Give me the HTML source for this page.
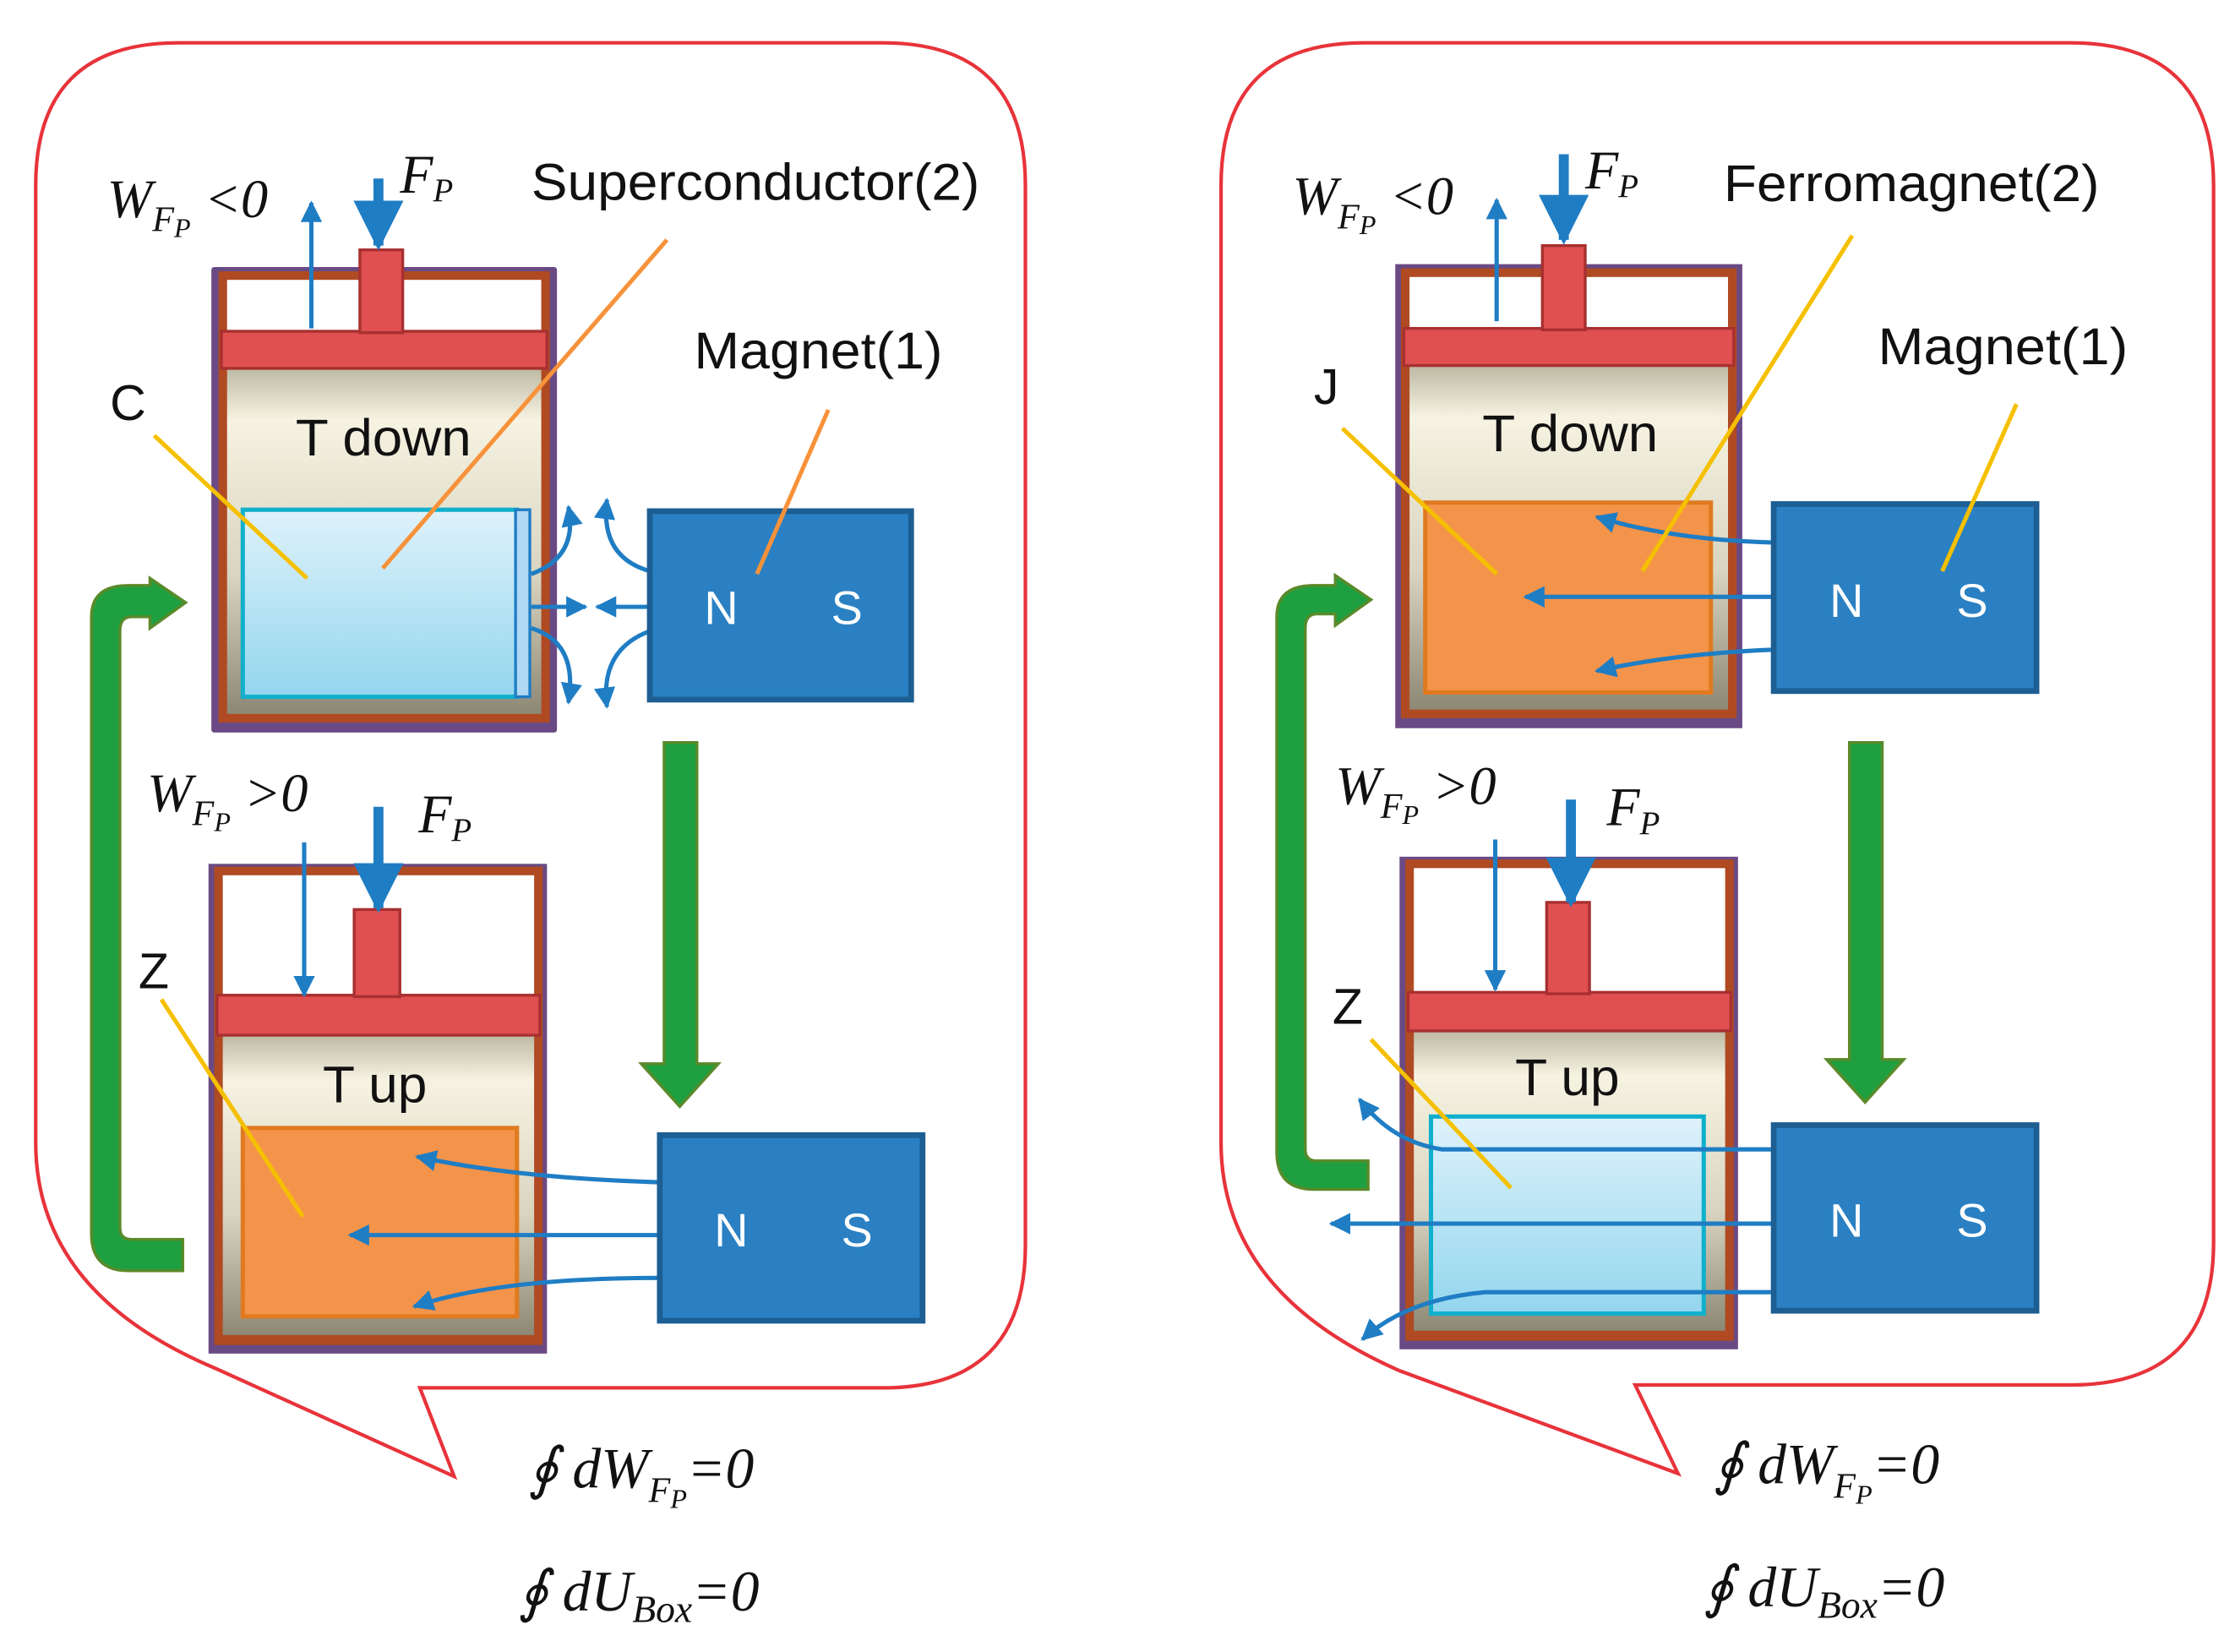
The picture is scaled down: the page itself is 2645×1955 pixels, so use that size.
<!DOCTYPE html>
<html><head><meta charset="utf-8"><style>
html,body{margin:0;padding:0;background:#fff;}
svg{display:block;}
.t{font-family:"Liberation Sans",sans-serif;fill:#111;}
.m{font-family:"Liberation Serif",serif;font-style:italic;fill:#111;}
</style></head><body>
<svg width="2645" height="1955" viewBox="0 0 1565 1157" preserveAspectRatio="none" xmlns="http://www.w3.org/2000/svg">
<defs>
<linearGradient id="gas" x1="0" y1="0" x2="0" y2="1">
<stop offset="0" stop-color="#bdb9a3"/><stop offset="0.15" stop-color="#f6f3e2"/><stop offset="0.6" stop-color="#d8d4c0"/><stop offset="1" stop-color="#8c8874"/></linearGradient>
<linearGradient id="ice" x1="0" y1="0" x2="0" y2="1">
<stop offset="0" stop-color="#dff2fb"/><stop offset="1" stop-color="#93d6ee"/></linearGradient>
<marker id="ah" viewBox="0 0 10 10" refX="9" refY="5" markerWidth="5" markerHeight="5" orient="auto"><path d="M0,0 L10,5 L0,10 Z" fill="#1f7dc4"/></marker>
</defs>

<path d="M125,30 H618 Q718,30 718,130 V872 Q718,972 618,972 H294 L318,1034 L150,958 Q25,905 25,800 V130 Q25,30 125,30 Z" fill="none" stroke="#e8333a" stroke-width="2.5"/>
<path d="M955,30 H1450 Q1550,30 1550,130 V870 Q1550,970 1450,970 H1145 L1175,1032 L980,960 Q855,905 855,800 V130 Q855,30 955,30 Z" fill="none" stroke="#e8333a" stroke-width="2.5"/>

<!-- LEFT TOP -->
<rect x="148" y="187" width="242" height="326" fill="#6a4a84" rx="2"/>
<rect x="153" y="190" width="232" height="316" fill="#b04a22"/>
<rect x="159" y="196" width="220" height="36" fill="#fff"/>
<rect x="159" y="258" width="220" height="242" fill="url(#gas)"/>
<rect x="155" y="232" width="228" height="26" fill="#e05050" stroke="#a83030" stroke-width="2"/>
<rect x="252" y="175" width="30" height="58" fill="#e05050" stroke="#a83030" stroke-width="2"/>
<rect x="170" y="357" width="192" height="131" fill="url(#ice)" stroke="#10b0cc" stroke-width="3"/>
<rect x="361" y="357" width="10" height="131" fill="#b0d8f4" stroke="#1f7dc4" stroke-width="2"/>
<text class="t" x="207" y="319" font-size="36" textLength="123" lengthAdjust="spacingAndGlyphs">T down</text>
<g stroke="#1f7dc4" stroke-width="3" fill="none">
<path d="M372,402 Q405,390 398,355" marker-end="url(#ah)"/>
<path d="M455,400 Q420,390 425,350" marker-end="url(#ah)"/>
<path d="M372,425 H410" marker-end="url(#ah)"/>
<path d="M455,425 H418" marker-end="url(#ah)"/>
<path d="M372,440 Q405,450 398,492" marker-end="url(#ah)"/>
<path d="M455,442 Q420,455 425,495" marker-end="url(#ah)"/>
</g>
<rect x="455" y="358" width="183" height="132" fill="#2a80c2" stroke="#1d5e93" stroke-width="4"/>
<text x="505" y="437" font-size="33" fill="#fff" font-family="Liberation Sans,sans-serif" text-anchor="middle">N</text>
<text x="593" y="437" font-size="33" fill="#fff" font-family="Liberation Sans,sans-serif" text-anchor="middle">S</text>

<!-- LEFT BOTTOM -->
<rect x="146" y="605" width="237" height="343" fill="#6a4a84"/>
<rect x="150" y="607" width="230" height="335" fill="#b04a22"/>
<rect x="156" y="613" width="218" height="84" fill="#fff"/>
<rect x="156" y="725" width="218" height="210" fill="url(#gas)"/>
<rect x="152" y="697" width="226" height="28" fill="#e05050" stroke="#a83030" stroke-width="2"/>
<rect x="248" y="637" width="32" height="61" fill="#e05050" stroke="#a83030" stroke-width="2"/>
<rect x="170" y="790" width="192" height="132" fill="#f4944a" stroke="#e07a20" stroke-width="3"/>
<text class="t" x="226" y="772" font-size="36" textLength="73" lengthAdjust="spacingAndGlyphs">T up</text>
<g stroke="#1f7dc4" stroke-width="3" fill="none">
<path d="M462,828 Q360,825 292,810" marker-end="url(#ah)"/>
<path d="M462,865 H245" marker-end="url(#ah)"/>
<path d="M462,895 Q350,895 290,915" marker-end="url(#ah)"/>
</g>
<rect x="462" y="795" width="184" height="130" fill="#2a80c2" stroke="#1d5e93" stroke-width="4"/>
<text x="512" y="873" font-size="33" fill="#fff" font-family="Liberation Sans,sans-serif" text-anchor="middle">N</text>
<text x="600" y="873" font-size="33" fill="#fff" font-family="Liberation Sans,sans-serif" text-anchor="middle">S</text>

<path d="M465,520 H488 V745 H503 L476,775 L449,745 H465 Z" fill="#1fa040" stroke="#5a8a2a" stroke-width="2"/>
<path d="M128,890 H90 Q64,890 64,864 V432 Q64,410 90,410 H105 V405 L130,422 L105,440 V432 H92 Q84,432 84,442 V860 Q84,868 92,868 H128 Z" fill="#1fa040" stroke="#5a8a2a" stroke-width="2"/>

<g stroke-width="3">
<line x1="108" y1="305" x2="215" y2="405" stroke="#f5c000"/>
<line x1="467" y1="168" x2="268" y2="398" stroke="#f7923a"/>
<line x1="580" y1="287" x2="530" y2="402" stroke="#f7923a"/>
<line x1="113" y1="700" x2="212" y2="852" stroke="#f5c000"/>
</g>
<g stroke="#1f7dc4" fill="none">
<line x1="218" y1="230" x2="218" y2="142" stroke-width="3" marker-end="url(#ah)"/>
<line x1="265" y1="125" x2="265" y2="172" stroke-width="7" marker-end="url(#ah)"/>
<line x1="213" y1="590" x2="213" y2="697" stroke-width="3" marker-end="url(#ah)"/>
<line x1="265" y1="565" x2="265" y2="636" stroke-width="7" marker-end="url(#ah)"/>
</g>
<text class="t" x="372" y="140" font-size="36" textLength="314" lengthAdjust="spacingAndGlyphs">Superconductor(2)</text>
<text class="t" x="486" y="258" font-size="36" textLength="174" lengthAdjust="spacingAndGlyphs">Magnet(1)</text>
<text class="t" x="77" y="294" font-size="35">C</text>
<text class="t" x="97" y="692" font-size="35">Z</text>
<text class="m" x="75" y="152" font-size="38">W<tspan font-size="25" dy="10">F</tspan><tspan font-size="19" dy="4">P</tspan><tspan dy="-14"> &lt;0</tspan></text>
<text class="m" x="280" y="135" font-size="38">F<tspan font-size="23" dy="6">P</tspan></text>
<text class="m" x="103" y="568" font-size="38">W<tspan font-size="25" dy="10">F</tspan><tspan font-size="19" dy="4">P</tspan><tspan dy="-14"> &gt;0</tspan></text>
<text class="m" x="293" y="583" font-size="38">F<tspan font-size="23" dy="6">P</tspan></text>
<text class="m" x="370" y="1042" font-size="40">∮ dW<tspan font-size="25" dy="10">F</tspan><tspan font-size="19" dy="4">P</tspan><tspan dy="-14">=0</tspan></text>
<text class="m" x="363" y="1128" font-size="40">∮ dU<tspan font-size="27" dy="8">Box</tspan><tspan dy="-8">=0</tspan></text>

<!-- RIGHT TOP -->
<rect x="977" y="185" width="243" height="325" fill="#6a4a84"/>
<rect x="981" y="188" width="235" height="315" fill="#b04a22"/>
<rect x="987" y="194" width="223" height="36" fill="#fff"/>
<rect x="987" y="256" width="223" height="241" fill="url(#gas)"/>
<rect x="983" y="230" width="231" height="26" fill="#e05050" stroke="#a83030" stroke-width="2"/>
<rect x="1080" y="172" width="30" height="59" fill="#e05050" stroke="#a83030" stroke-width="2"/>
<rect x="998" y="352" width="200" height="133" fill="#f4944a" stroke="#e07a20" stroke-width="3"/>
<text class="t" x="1038" y="316" font-size="36" textLength="123" lengthAdjust="spacingAndGlyphs">T down</text>
<g stroke="#1f7dc4" stroke-width="3" fill="none">
<path d="M1242,380 Q1170,378 1118,362" marker-end="url(#ah)"/>
<path d="M1242,418 H1068" marker-end="url(#ah)"/>
<path d="M1242,455 Q1170,458 1118,470" marker-end="url(#ah)"/>
</g>
<rect x="1242" y="353" width="184" height="131" fill="#2a80c2" stroke="#1d5e93" stroke-width="4"/>
<text x="1293" y="432" font-size="33" fill="#fff" font-family="Liberation Sans,sans-serif" text-anchor="middle">N</text>
<text x="1381" y="432" font-size="33" fill="#fff" font-family="Liberation Sans,sans-serif" text-anchor="middle">S</text>

<!-- RIGHT BOTTOM -->
<rect x="980" y="600" width="237" height="345" fill="#6a4a84"/>
<rect x="984" y="602" width="230" height="337" fill="#b04a22"/>
<rect x="990" y="608" width="218" height="87" fill="#fff"/>
<rect x="990" y="722" width="218" height="210" fill="url(#gas)"/>
<rect x="986" y="695" width="226" height="27" fill="#e05050" stroke="#a83030" stroke-width="2"/>
<rect x="1083" y="632" width="30" height="64" fill="#e05050" stroke="#a83030" stroke-width="2"/>
<rect x="1002" y="782" width="191" height="138" fill="url(#ice)" stroke="#10b0cc" stroke-width="3"/>
<text class="t" x="1061" y="767" font-size="36" textLength="73" lengthAdjust="spacingAndGlyphs">T up</text>
<g stroke="#1f7dc4" stroke-width="3" fill="none">
<path d="M1242,805 H1010 Q975,800 952,770" marker-end="url(#ah)"/>
<path d="M1242,857 H932" marker-end="url(#ah)"/>
<path d="M1242,905 H1040 Q985,910 954,938" marker-end="url(#ah)"/>
</g>
<rect x="1242" y="788" width="184" height="130" fill="#2a80c2" stroke="#1d5e93" stroke-width="4"/>
<text x="1293" y="866" font-size="33" fill="#fff" font-family="Liberation Sans,sans-serif" text-anchor="middle">N</text>
<text x="1381" y="866" font-size="33" fill="#fff" font-family="Liberation Sans,sans-serif" text-anchor="middle">S</text>

<path d="M1295,520 H1318 V742 H1333 L1306,772 L1279,742 H1295 Z" fill="#1fa040" stroke="#5a8a2a" stroke-width="2"/>
<path d="M958,833 H920 Q894,833 894,807 V432 Q894,410 920,410 H935 V403 L960,420 L935,438 V430 H922 Q914,430 914,440 V805 Q914,813 922,813 H958 Z" fill="#1fa040" stroke="#5a8a2a" stroke-width="2"/>

<g stroke-width="3">
<line x1="940" y1="300" x2="1048" y2="402" stroke="#f5c000"/>
<line x1="1297" y1="165" x2="1150" y2="400" stroke="#f5c000"/>
<line x1="1412" y1="283" x2="1360" y2="400" stroke="#f5c000"/>
<line x1="960" y1="728" x2="1058" y2="832" stroke="#f5c000"/>
</g>
<g stroke="#1f7dc4" fill="none">
<line x1="1048" y1="225" x2="1048" y2="140" stroke-width="3" marker-end="url(#ah)"/>
<line x1="1095" y1="108" x2="1095" y2="168" stroke-width="7" marker-end="url(#ah)"/>
<line x1="1047" y1="588" x2="1047" y2="693" stroke-width="3" marker-end="url(#ah)"/>
<line x1="1100" y1="560" x2="1100" y2="632" stroke-width="7" marker-end="url(#ah)"/>
</g>
<text class="t" x="1207" y="141" font-size="36" textLength="263" lengthAdjust="spacingAndGlyphs">Ferromagnet(2)</text>
<text class="t" x="1315" y="255" font-size="36" textLength="175" lengthAdjust="spacingAndGlyphs">Magnet(1)</text>
<text class="t" x="920" y="283" font-size="35">J</text>
<text class="t" x="933" y="717" font-size="35">Z</text>
<text class="m" x="905" y="150" font-size="38">W<tspan font-size="25" dy="10">F</tspan><tspan font-size="19" dy="4">P</tspan><tspan dy="-14"> &lt;0</tspan></text>
<text class="m" x="1110" y="132" font-size="38">F<tspan font-size="23" dy="6">P</tspan></text>
<text class="m" x="935" y="563" font-size="38">W<tspan font-size="25" dy="10">F</tspan><tspan font-size="19" dy="4">P</tspan><tspan dy="-14"> &gt;0</tspan></text>
<text class="m" x="1125" y="578" font-size="38">F<tspan font-size="23" dy="6">P</tspan></text>
<text class="m" x="1200" y="1039" font-size="40">∮ dW<tspan font-size="25" dy="10">F</tspan><tspan font-size="19" dy="4">P</tspan><tspan dy="-14">=0</tspan></text>
<text class="m" x="1193" y="1125" font-size="40">∮ dU<tspan font-size="27" dy="8">Box</tspan><tspan dy="-8">=0</tspan></text>
</svg>
</body></html>
